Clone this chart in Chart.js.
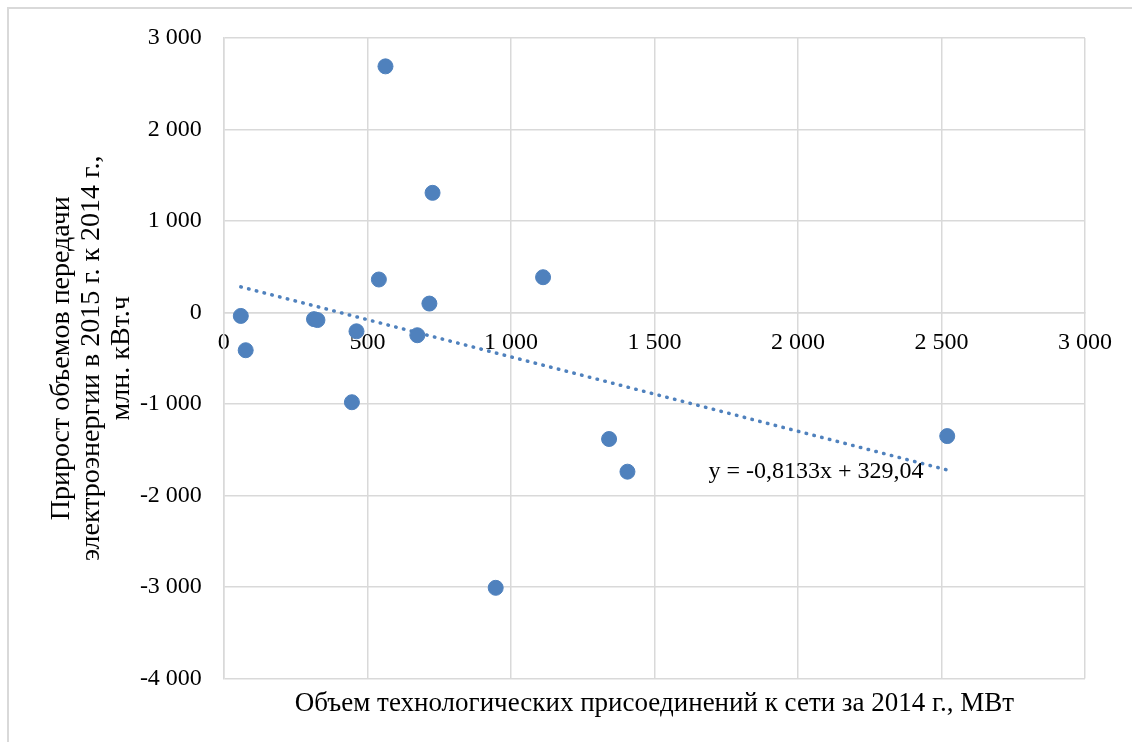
<!DOCTYPE html>
<html>
<head>
<meta charset="utf-8">
<script src="https://cdn.jsdelivr.net/npm/chart.js@4"></script>
<style>
  html, body { margin: 0; padding: 0; background: #fff; }
  #frame { position: absolute; left: 7px; top: 7px; width: 1140px; height: 760px;
           border-top: 2px solid #d9d9d9; border-left: 2px solid #d9d9d9; }
  #chart { position: absolute; left: 0; top: 0; }
</style>
</head>
<body>
<div id="frame"></div>
<canvas id="chart" width="1132" height="742"></canvas>
<script>
// points
const connections = [59, 76, 314, 326, 462, 446, 540, 563, 674, 716, 727, 947, 1112, 1342, 1406, 2520];
const growth = [-37, -412, -72, -82, -205, -980, 361, 2690, -248, 98, 1308, -3008, 386, -1382, -1739, -1350];

// linear trend, ends at the min and max x
const trendX = [59, 2520];
const trendY = [281, -1720];

const equationText = 'y = -0,8133x + 329,04';
const equationAt = { x: 1688, y: -1736 };

const blue = '#4f81bd';
const gridColor = '#d9d9d9';
const serif = 'Liberation Serif, Times New Roman, serif';

const fmt = (v) => String(v).replace(/\B(?=(\d{3})+(?!\d))/g, ' ');

const equationLabel = {
  id: 'equationLabel',
  afterDatasetsDraw(chart) {
    const { ctx, scales } = chart;
    ctx.save();
    ctx.font = '24px ' + serif;
    ctx.fillStyle = '#000';
    ctx.textAlign = 'left';
    ctx.textBaseline = 'middle';
    ctx.fillText(equationText, scales.x.getPixelForValue(equationAt.x), scales.y.getPixelForValue(equationAt.y));
    ctx.restore();
  },
};

new Chart(document.getElementById('chart'), {
  type: 'scatter',
  data: {
    datasets: [
      {
        label: 'data',
        data: connections.map((x, i) => ({ x, y: growth[i] })),
        backgroundColor: blue,
        borderColor: blue,
        pointRadius: 7.5,
        pointHoverRadius: 7.5,
        order: 1,
      },
      {
        label: 'trend',
        type: 'line',
        data: trendX.map((x, i) => ({ x, y: trendY[i] })),
        borderColor: blue,
        borderWidth: 3.5,
        borderDash: [0.5, 7.5],
        borderCapStyle: 'round',
        pointRadius: 0,
        fill: false,
        order: 2,
      },
    ],
  },
  options: {
    responsive: false,
    animation: false,
    layout: { padding: { left: 40, top: 38, right: 47, bottom: 12 } },
    plugins: {
      legend: { display: false },
      tooltip: { enabled: false },
      title: {
        display: true,
        position: 'bottom',
        fullSize: false,
        text: 'Объем технологических присоединений к сети за 2014 г., МВт',
        color: '#000',
        font: { family: serif, size: 27, weight: 'normal' },
        padding: { top: 9, bottom: 10 },
      },
    },
    scales: {
      x: {
        type: 'linear',
        position: { y: 0 },
        min: 0,
        max: 3000,
        ticks: {
          stepSize: 500,
          color: '#000',
          font: { family: serif, size: 24 },
          padding: 16,
          maxRotation: 0,
          callback: fmt,
        },
        grid: { color: gridColor, lineWidth: 1.5, drawTicks: false },
        border: { color: gridColor, width: 1.5 },
      },
      y: {
        min: -4000,
        max: 3000,
        ticks: {
          stepSize: 1000,
          color: '#000',
          font: { family: serif, size: 24 },
          padding: 22,
          callback: fmt,
        },
        grid: { color: gridColor, lineWidth: 1.5, drawTicks: false },
        border: { color: gridColor, width: 1.5 },
        title: {
          display: true,
          text: ['Прирост объемов передачи', 'электроэнергии в 2015 г. к 2014 г.,', 'млн. кВт.ч'],
          color: '#000',
          font: { family: serif, size: 28, lineHeight: 1.07 },
          padding: { top: 7, bottom: -19 },
        },
      },
    },
  },
  plugins: [equationLabel],
});
</script>
</body>
</html>
